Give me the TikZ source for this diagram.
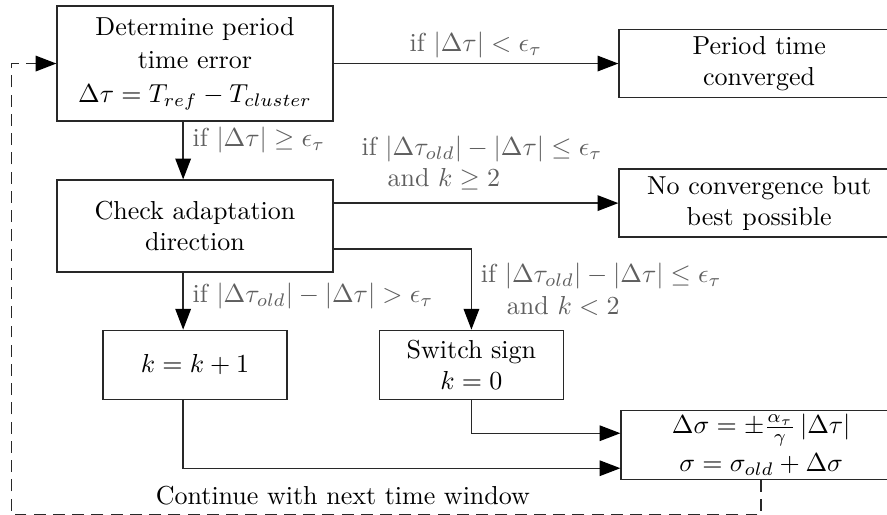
\documentclass[tikz,border=0pt]{standalone}
\usepackage{amsmath}
\usetikzlibrary{arrows.meta,positioning,calc}
\definecolor{lineclr}{RGB}{40,40,40}
\definecolor{lblclr}{RGB}{95,95,95}

\begin{document}
\begin{tikzpicture}[
  procbox/.style={rectangle,draw=lineclr,line width=0.5pt,align=center,
                  minimum width=3.73cm,inner sep=2pt},
  endbox/.style={procbox,minimum width=3.79cm,minimum height=0.92cm},
  smallbox/.style={procbox,minimum width=2.49cm,minimum height=0.933cm},
  lbl/.style={color=lblclr,align=left,inner sep=2pt},
  arr/.style={-{Triangle[length=8pt,width=6pt,color=black]},line width=0.5pt,color=lineclr},
  looparr/.style={arr,line width=0.55pt,dash pattern=on 4.6pt off 2.8pt}
]

\useasboundingbox (-2.636,0.859) rectangle (9.356,-6.091);
\clip (-2.636,0.859) rectangle (9.356,-6.091);

\node[procbox, minimum height=1.555cm] (det) at (0,0)
    {Determine period\\[1pt] time error\\[1pt] $\Delta\tau = T_{ref} - T_{cluster}$};
\node[endbox, right=3.85cm of det] (conv) {Period time\\ converged};
\node[procbox, minimum height=1.244cm, below=0.78cm of det] (check)
    {Check adaptation\\ direction};
\node[endbox, right=3.85cm of check, yshift=0.31cm] (best)
    {No convergence but\\ best possible};
\node[smallbox, below=0.77cm of check] (kinc) {$k = k + 1$};
\node[smallbox, right=1.23cm of kinc] (switch) {Switch sign\\ $k = 0$};
\node[endbox, minimum height=0.933cm, inner ysep=0pt, right=0.76cm of switch, yshift=-1.08cm] (update)
    {$\Delta\sigma = \pm\frac{\alpha_\tau}{\gamma}\left|\Delta\tau\right|$\\[2.5pt]
     $\sigma = \sigma_{old} + \Delta\sigma$};

% vertical connectors sit a bit left of the box centres
\coordinate (colA) at ($(det.south)+(-0.16,0)$);
\coordinate (colB) at ($(check.south)+(-0.16,0)$);
\coordinate (colC) at ($(kinc.south)+(-0.16,0)$);
\coordinate (chkE) at (check.east |- best.west);
\coordinate (chkF) at ($(check.east)+(0,-0.31)$);
\coordinate (inA) at ($(update.west)+(0,0.155)$);
\coordinate (inB) at ($(update.west)+(0,-0.318)$);

\draw[arr] (det.east) -- node[lbl, above] {if $|\Delta\tau| < \epsilon_\tau$} (conv.west);
\draw[arr] (colA) -- node[lbl, right, xshift=0.05cm, yshift=0.14cm] {if $|\Delta\tau| \geq \epsilon_\tau$} (colA |- check.north);
\draw[arr] (chkE) -- node[lbl, pos=0, anchor=south west, xshift=0.3cm, yshift=0.1cm]
    {if $|\Delta\tau_{old}| - |\Delta\tau| \leq \epsilon_\tau$\\ \quad and $k \geq 2$} (best.west);
\draw[arr] (colB) -- node[lbl, right, xshift=0.05cm, yshift=0.07cm]
    {if $|\Delta\tau_{old}| - |\Delta\tau| > \epsilon_\tau$} (colB |- kinc.north);
\draw[arr] (chkF) -| node[lbl, pos=0.75, right, xshift=0.05cm]
    {if $|\Delta\tau_{old}| - |\Delta\tau| \leq \epsilon_\tau$\\ \quad and $k < 2$} (switch.north);
\draw[arr] (switch.south) |- (inA);
\draw[arr] (colC) |- (inB);

% back to the start
\coordinate (loopY) at ($(kinc.south)+(0,-1.55)$);
\coordinate (loopA) at (update.south |- loopY);
\coordinate (loopB) at ($(det.west)+(-0.61,0)$);
\draw[looparr] (update.south) -- (loopA) -| (loopB) -- (det.west);
\node (next) at ($(det.center |- loopA)+(2.0,0.26)$) {Continue with next time window};

\end{tikzpicture}
\end{document}
